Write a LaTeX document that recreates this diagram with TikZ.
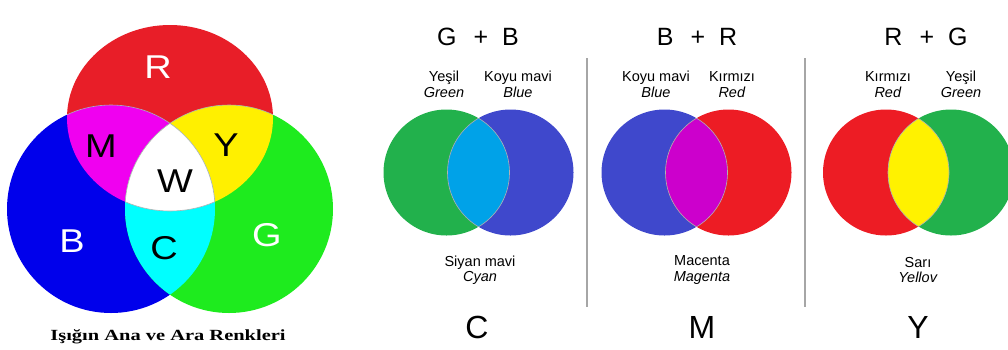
\documentclass[tikz,border=0pt]{standalone}
\usepackage{fontspec}
\setmainfont{Liberation Sans}
\newfontfamily\capfont{Liberation Serif}
% colours of the light picture on the left
\definecolor{lred}{RGB}{232,30,40}
\definecolor{lblue}{RGB}{0,0,235}
\definecolor{lgreen}{RGB}{30,235,30}
\definecolor{lmag}{RGB}{240,0,240}
\definecolor{lyel}{RGB}{255,240,0}
\definecolor{lcyan}{RGB}{0,255,255}
% colours of the three pairs
\definecolor{pred}{RGB}{237,28,36}
\definecolor{pgreen}{RGB}{34,177,76}
\definecolor{pblue}{RGB}{63,72,204}
\definecolor{pcyan}{RGB}{0,162,232}
\definecolor{pmag}{RGB}{204,0,204}
\definecolor{pyel}{RGB}{255,242,0}
\def\redring{(rc) ellipse [x radius=103pt, y radius=93pt]}
\def\bluering{(bc) circle (104pt)}
\def\greenring{(gc) circle (104pt)}
\newcommand\widened[1]{\scalebox{1.15}[1]{#1}}
\begin{document}
\begin{tikzpicture}[x=1pt,y=-1pt]
    \tikzset{
        big/.style={font=\fontsize{33}{33}\selectfont},
        title/.style={font=\fontsize{25}{25}\selectfont},
        small/.style={font=\fontsize{14.5}{15.5}\selectfont, align=center, inner sep=0pt},
        cmy/.style={font=\fontsize{32}{32}\selectfont},
        sep/.style={gray!70, line width=1.5pt},
        rim/.style={gray!60, line width=0.6pt}
    }
    \useasboundingbox (0,0) rectangle (1008,349);
    % light: R, G, B and their mixtures
    \coordinate (rc) at (170,118);
    \coordinate (bc) at (111,209);
    \coordinate (gc) at (229,209);
    \fill[lred] \redring;
    \fill[lblue] \bluering;
    \fill[lgreen] \greenring;
    \begin{scope}
        \clip \redring;
        \fill[lmag] \bluering;
        \fill[lyel] \greenring;
    \end{scope}
    \begin{scope}
        \clip \bluering;
        \fill[lcyan] \greenring;
        \clip \greenring;
        \fill[white] \redring;
        \draw[rim] \redring;
    \end{scope}
    \begin{scope}
        \clip \redring;
        \draw[rim] \bluering;
        \draw[rim] \greenring;
    \end{scope}
    \node[big, white] (lr) at (158,67) {\widened{R}};
    \node[big] (lm) at (101,146) {\widened{M}};
    \node[big] (ly) at (226,145) {\widened{Y}};
    \node[big] (lw) at (175,181) {\widened{W}};
    \node[big, white] (lb) at (72,241) {\widened{B}};
    \node[big] (lc) at (164,248) {\widened{C}};
    \node[big, white] (lg) at (267,235) {\widened{G}};
    \node (cap) at (168,337) {\scalebox{1.32}[1]{\capfont\bfseries\fontsize{15.5}{16}\selectfont Işığın Ana ve Ara Renkleri}};

    % G + B
    \fill[pgreen] (446.5,172.5) circle (63pt);
    \fill[pblue] (510.5,172.5) circle (63pt);
    \begin{scope}
        \clip (446.5,172.5) circle (63pt);
        \fill[pcyan] (510.5,172.5) circle (63pt);
        \draw[rim] (510.5,172.5) circle (63pt);
    \end{scope}
    \begin{scope}
        \clip (510.5,172.5) circle (63pt);
        \draw[rim] (446.5,172.5) circle (63pt);
    \end{scope}
    \node[title] (gb) at (478,37) {G\hspace{17pt}+\hspace{14pt}B};
    \node[small] (gb1) at (444,84.5) {Yeşil\\\textit{Green}};
    \node[small] (gb2) at (518,84.5) {Koyu mavi\\\textit{Blue}};
    \node[small] (gb3) at (480,270) {Siyan mavi\\\textit{Cyan}};
    \node[cmy] (cc) at (477,327) {C};

    % B + R
    \fill[pblue] (664.5,172.5) circle (63pt);
    \fill[pred] (728.5,172.5) circle (63pt);
    \begin{scope}
        \clip (664.5,172.5) circle (63pt);
        \fill[pmag] (728.5,172.5) circle (63pt);
        \draw[rim] (728.5,172.5) circle (63pt);
    \end{scope}
    \begin{scope}
        \clip (728.5,172.5) circle (63pt);
        \draw[rim] (664.5,172.5) circle (63pt);
    \end{scope}
    \node[title] (br) at (697,37) {B\hspace{17pt}+\hspace{14pt}R};
    \node[small] (br1) at (656,84.5) {Koyu mavi\\\textit{Blue}};
    \node[small] (br2) at (732,84.5) {Kırmızı\\\textit{Red}};
    \node[small] (br3) at (702,270) {Macenta\\\textit{Magenta}};
    \node[cmy] (mm) at (702,327) {M};

    % R + G
    \fill[pred] (886,172.5) circle (63pt);
    \fill[pgreen] (951,172.5) circle (63pt);
    \begin{scope}
        \clip (886,172.5) circle (63pt);
        \fill[pyel] (951,172.5) circle (63pt);
        \draw[rim] (951,172.5) circle (63pt);
    \end{scope}
    \begin{scope}
        \clip (951,172.5) circle (63pt);
        \draw[rim] (886,172.5) circle (63pt);
    \end{scope}
    \node[title] (rg) at (926,37) {R\hspace{17pt}+\hspace{14pt}G};
    \node[small] (rg1) at (888,84.5) {Kırmızı\\\textit{Red}};
    \node[small] (rg2) at (961,84.5) {Yeşil\\\textit{Green}};
    \node[small] (rg3) at (918,270) {Sarı\\\textit{Yellov}};
    \node[cmy] (yy) at (918,327) {Y};

    % separators
    \coordinate (s1t) at (587,58);
    \coordinate (s1b) at (587,307);
    \coordinate (s2t) at (805,58);
    \coordinate (s2b) at (805,307);
    \draw[sep] (s1t) -- (s1b);
    \draw[sep] (s2t) -- (s2b);
\end{tikzpicture}
\end{document}
